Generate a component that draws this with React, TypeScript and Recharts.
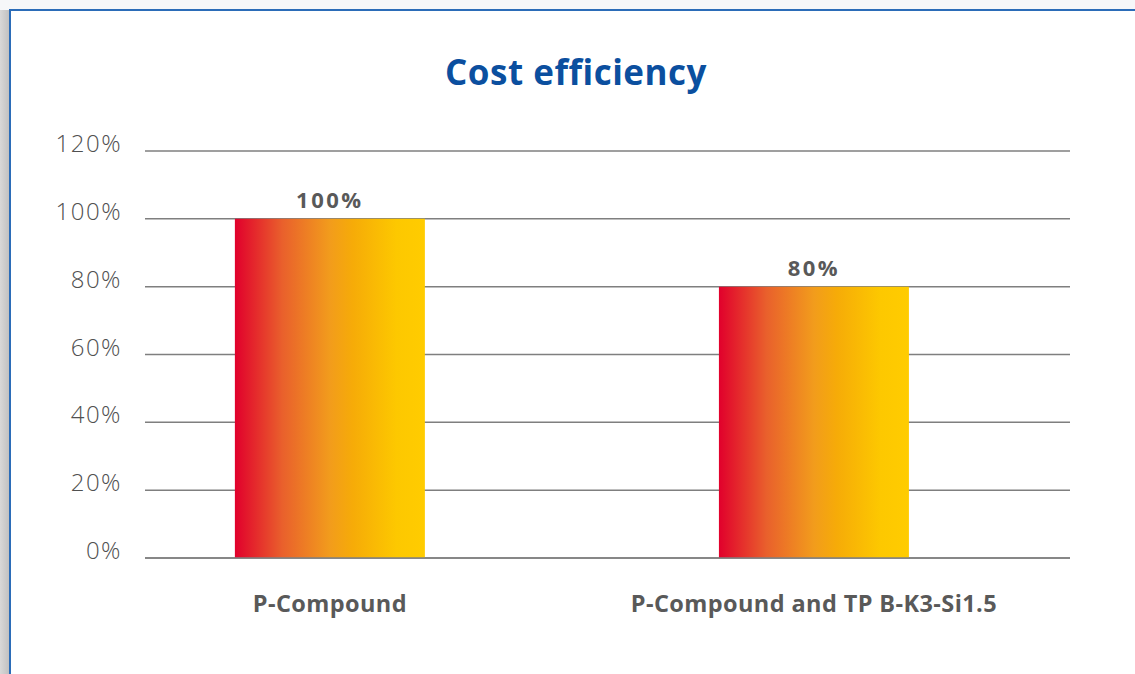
import { Bar, BarChart, CartesianGrid, LabelList, XAxis, YAxis } from "recharts";

const categories = ["P-Compound", "P-Compound and TP B-K3-Si1.5"];
const costShare = [1.0, 0.8];
const yTicks = [0, 0.2, 0.4, 0.6, 0.8, 1.0, 1.2];

const data = categories.map((name, i) => ({ idx: i, name, value: costShare[i] }));

const pct = (v: number) => `${Math.round(v * 100)}%`;

const YTick = (props: any) => {
  const { x, y, payload } = props;
  return (
    <text
      x={x}
      y={y}
      dy={1}
      textAnchor="end"
      fill="#505050"
      fontSize={24}
      fontWeight={300}
      letterSpacing={1.5}
      fontFamily="'Open Sans', sans-serif"
    >
      {pct(payload.value)}
    </text>
  );
};

const XTick = (props: any) => {
  const { x, y, payload } = props;
  return (
    <text
      x={x}
      y={y}
      dy={46}
      textAnchor="middle"
      fill="#595959"
      fontSize={23.5}
      fontWeight={700}
      letterSpacing={0.4}
      fontFamily="'Open Sans', sans-serif"
    >
      {categories[payload.value]}
    </text>
  );
};

export default function App() {
  return (
    <div
      style={{
        position: "fixed",
        left: 0,
        top: 0,
        width: 1135,
        height: 674,
        background: "#f6f7f9",
        overflow: "hidden",
      }}
    >
      <div
        style={{
          position: "absolute",
          left: 0,
          top: 10,
          width: 12,
          height: 664,
          background: "linear-gradient(to right, #d8d8d8, #b9b9b9)",
        }}
      />
      <div
        style={{
          position: "absolute",
          left: 9,
          top: 9,
          width: 1140,
          height: 680,
          background: "#fff",
          borderTop: "2px solid #2b6cb8",
          borderLeft: "2px solid #2b6cb8",
        }}
      />
      <div
        style={{
          position: "absolute",
          left: 0,
          top: 52,
          width: 1152,
          textAlign: "center",
          fontFamily: "'Open Sans', sans-serif",
          fontWeight: 700,
          fontSize: 35,
          letterSpacing: 0.5,
          lineHeight: "40px",
          color: "#0b4f9f",
        }}
      >
        Cost efficiency
      </div>
      <div style={{ position: "absolute", left: 0, top: 0 }}>
        <BarChart
          width={1135}
          height={674}
          data={data}
          margin={{ top: 151, right: 65, bottom: 86, left: 25 }}
        >
          <defs>
            <linearGradient id="barGrad" x1="0" y1="0" x2="1" y2="0">
              <stop offset="0%" stopColor="#e1002c" />
              <stop offset="25%" stopColor="#e9602c" />
              <stop offset="50%" stopColor="#f29c1c" />
              <stop offset="62%" stopColor="#f6ab08" />
              <stop offset="85%" stopColor="#fdc800" />
              <stop offset="100%" stopColor="#ffcc00" />
            </linearGradient>
          </defs>
          <CartesianGrid vertical={false} stroke="#7f7f7f" strokeWidth={1.5} />
          <XAxis
            dataKey="idx"
            type="number"
            domain={[-0.382, 1.529]}
            ticks={[0, 1]}
            tick={<XTick />}
            tickLine={false}
            axisLine={{ stroke: "#7f7f7f", strokeWidth: 1.5 }}
            height={30}
            allowDataOverflow
          />
          <YAxis
            domain={[0, 1.2]}
            ticks={yTicks}
            width={120}
            tick={<YTick />}
            tickLine={false}
            axisLine={false}
            tickSize={0}
            tickMargin={23}
          />
          <Bar dataKey="value" fill="url(#barGrad)" barSize={190} isAnimationActive={false}>
            <LabelList
              dataKey="value"
              position="top"
              offset={11}
              formatter={(v: any) => pct(Number(v))}
              fill="#595959"
              fontSize={22}
              fontWeight={700}
              letterSpacing={2.5}
              fontFamily="'Open Sans', sans-serif"
            />
          </Bar>
        </BarChart>
      </div>
    </div>
  );
}
